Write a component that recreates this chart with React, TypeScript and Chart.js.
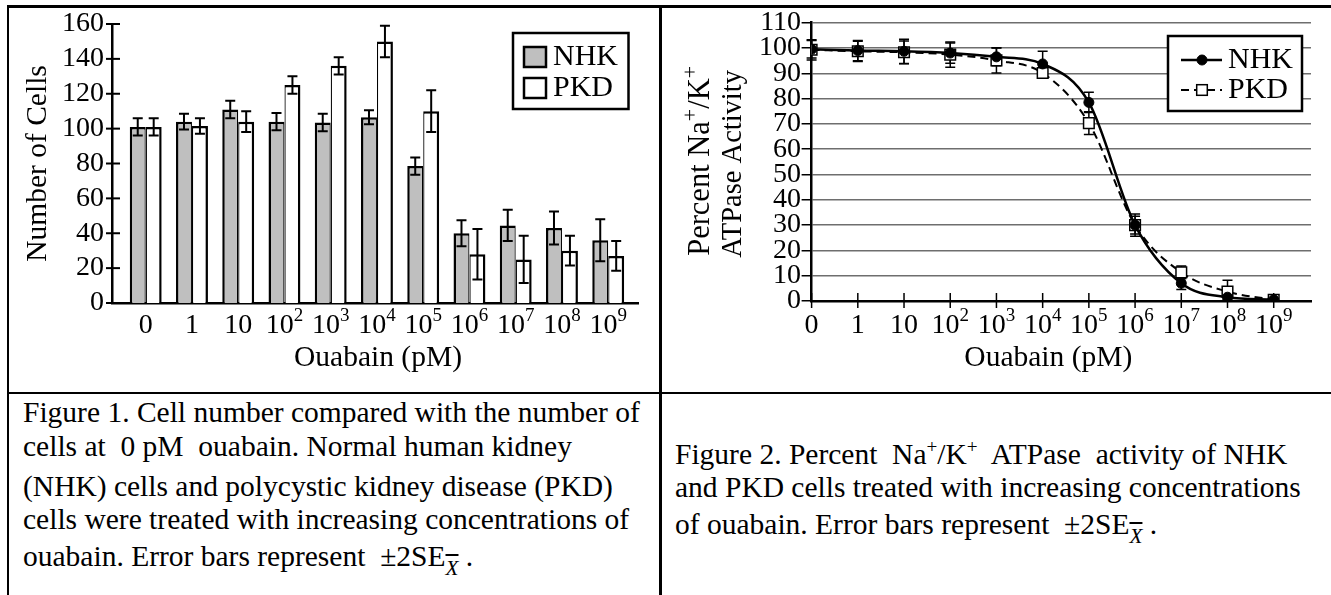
import React, { useEffect, useRef } from 'react';
import { Chart, registerables } from 'chart.js';

Chart.register(...registerables);

const SERIF = '"Liberation Serif", "Times New Roman", serif';

// ---------- data ----------
const concIndex = [0, 1, 2, 3, 4, 5, 6, 7, 8, 9, 10];
const tickBase = ['0', '1', '10', '10', '10', '10', '10', '10', '10', '10', '10'];
const tickExp = ['', '', '', '2', '3', '4', '5', '6', '7', '8', '9'];

const cellTicks = [0, 20, 40, 60, 80, 100, 120, 140, 160];
const nhkCells = [101, 104, 111, 104, 103.5, 106.5, 78.5, 40, 44.5, 43, 36];
const nhkCellsErr = [5, 4.5, 5, 5, 5, 4, 5, 7.5, 9, 9.5, 12];
const pkdCells = [101, 101.5, 104, 125, 136, 150, 110, 28, 25, 30, 27];
const pkdCellsErr = [5, 4.5, 6, 5, 5, 9, 12, 14.5, 13.5, 8.5, 8.5];

const activityTicks = [0, 10, 20, 30, 40, 50, 60, 70, 80, 90, 100, 110];
const nhkActivity = [99.5, 99, 98.7, 98, 96.5, 93.7, 78.5, 30, 7, 1.5, 0.5];
const nhkActivityErr = [3.5, 4, 4.8, 4, 3.5, 5, 4, 4.4, 2.5, 1, 0.5];
const pkdActivity = [99.3, 98.7, 98.3, 97.4, 95.1, 90.1, 70.3, 30, 11.3, 3.7, 0.5];
const pkdActivityErr = [4, 4, 4.5, 5, 5, 2, 4.5, 3.5, 2.5, 4.5, 0.5];

const seriesNames = ['NHK', 'PKD'];

// ---------- drawing helpers ----------
type Seg = { t: string; sup?: boolean };
const font = (px: number) => `${px}px ${SERIF}`;

function drawSegs(ctx: CanvasRenderingContext2D, segs: Seg[], cx: number, cy: number, size: number, supSize: number, rise: number, align: 'center' | 'right' = 'center') {
  const widths = segs.map((s) => {
    ctx.font = font(s.sup ? supSize : size);
    return ctx.measureText(s.t).width;
  });
  const total = widths.reduce((a, b) => a + b, 0);
  let x = align === 'center' ? cx - total / 2 : cx - total;
  ctx.textAlign = 'left';
  ctx.textBaseline = 'middle';
  ctx.fillStyle = '#000';
  segs.forEach((s, i) => {
    ctx.font = font(s.sup ? supSize : size);
    ctx.fillText(s.t, x, s.sup ? cy - rise : cy);
    x += widths[i];
  });
}

function drawLeft(ctx: CanvasRenderingContext2D, text: string, x: number, y: number, size: number) {
  ctx.font = font(size);
  ctx.textAlign = 'left';
  ctx.textBaseline = 'middle';
  ctx.fillStyle = '#000';
  ctx.fillText(text, x, y);
}

function drawErrorBars(chart: any, values: number[][], errs: number[][], cap: number, width: number) {
  const { ctx } = chart;
  const y = chart.scales.y;
  ctx.save();
  ctx.strokeStyle = '#000';
  ctx.lineWidth = width;
  values.forEach((vals, di) => {
    const meta = chart.getDatasetMeta(di);
    meta.data.forEach((el: any, j: number) => {
      const px = el.x;
      const top = y.getPixelForValue(vals[j] + errs[di][j]);
      const bot = y.getPixelForValue(Math.max(0, vals[j] - errs[di][j]));
      ctx.beginPath();
      ctx.moveTo(px, top);
      ctx.lineTo(px, bot);
      ctx.moveTo(px - cap, top);
      ctx.lineTo(px + cap, top);
      ctx.moveTo(px - cap, bot);
      ctx.lineTo(px + cap, bot);
      ctx.stroke();
    });
  });
  ctx.restore();
}

function drawXTickLabels(chart: any, yPos: number) {
  const { ctx } = chart;
  const x = chart.scales.x;
  concIndex.forEach((v, i) => {
    const px = x.getPixelForValue(v);
    const segs: Seg[] = [{ t: tickBase[i] }];
    if (tickExp[i]) segs.push({ t: tickExp[i], sup: true });
    drawSegs(ctx, segs, px, yPos, 28, 19, 9.5);
  });
}

function drawYTickLabels(chart: any, ticks: number[], gap: number) {
  const { ctx } = chart;
  const y = chart.scales.y;
  const left = chart.chartArea.left;
  ticks.forEach((t) => {
    drawSegs(ctx, [{ t: String(t) }], left - gap, y.getPixelForValue(t), 28, 19, 0, 'right');
  });
}

function drawRotated(ctx: CanvasRenderingContext2D, segs: Seg[], cx: number, cy: number, size: number, supSize: number, rise: number) {
  ctx.save();
  ctx.translate(cx, cy);
  ctx.rotate(-Math.PI / 2);
  drawSegs(ctx, segs, 0, 0, size, supSize, rise);
  ctx.restore();
}

// ---------- bar chart ----------
const barPlugin = {
  id: 'barExtras',
  afterDatasetsDraw(chart: any) {
    drawErrorBars(chart, [nhkCells, pkdCells], [nhkCellsErr, pkdCellsErr], 5, 2);
  },
  afterDraw(chart: any) {
    const { ctx, chartArea } = chart;
    const y = chart.scales.y;
    ctx.save();
    ctx.strokeStyle = '#000';
    ctx.lineWidth = 2;
    cellTicks.forEach((t) => {
      const py = y.getPixelForValue(t);
      ctx.beginPath();
      ctx.moveTo(chartArea.left - 6, py);
      ctx.lineTo(chartArea.left + 8, py);
      ctx.stroke();
    });
    drawYTickLabels(chart, cellTicks, 8);
    drawXTickLabels(chart, 318);
    drawSegs(ctx, [{ t: 'Ouabain (pM)' }], (chartArea.left + chartArea.right) / 2 + 3, 350, 29.5, 20, 0);
    drawRotated(ctx, [{ t: 'Number of Cells' }], 29, (chartArea.top + chartArea.bottom) / 2, 29.5, 20, 0);

    const bx = 504, by = 25, bw = 115.5, bh = 76;
    ctx.fillStyle = '#fff';
    ctx.fillRect(bx, by, bw, bh);
    ctx.lineWidth = 2.5;
    ctx.strokeStyle = '#000';
    ctx.strokeRect(bx, by, bw, bh);
    [49, 80].forEach((cy, i) => {
      const ds = chart.data.datasets[i];
      ctx.fillStyle = ds.backgroundColor;
      ctx.fillRect(515, cy - 10, 22, 20);
      ctx.lineWidth = 2.5;
      ctx.strokeStyle = '#000';
      ctx.strokeRect(515, cy - 10, 22, 20);
      drawLeft(ctx, ds.label, 544, cy, 30);
    });
    ctx.restore();
  },
};

// ---------- line chart ----------
const linePlugin = {
  id: 'lineExtras',
  beforeDatasetsDraw(chart: any) {
    drawErrorBars(chart, [nhkActivity, pkdActivity], [nhkActivityErr, pkdActivityErr], 5, 1.5);
  },
  afterDraw(chart: any) {
    const { ctx, chartArea } = chart;
    const x = chart.scales.x;
    ctx.save();
    ctx.strokeStyle = '#000';
    ctx.lineWidth = 1.5;
    concIndex.forEach((v) => {
      const px = x.getPixelForValue(v);
      ctx.beginPath();
      ctx.moveTo(px, chartArea.bottom - 8);
      ctx.lineTo(px, chartArea.bottom + 7);
      ctx.stroke();
    });
    drawYTickLabels(chart, activityTicks, 10.5);
    drawXTickLabels(chart, 318);
    drawSegs(ctx, [{ t: 'Ouabain (pM)' }], (chartArea.left + chartArea.right) / 2 - 13, 350, 29.5, 20, 0);
    const midY = (chartArea.top + chartArea.bottom) / 2;
    drawRotated(ctx, [{ t: 'Percent Na' }, { t: '+', sup: true }, { t: '/K' }, { t: '+', sup: true }], 39, midY - 1, 30.5, 22, 10);
    drawRotated(ctx, [{ t: 'ATPase Activity' }], 72, midY + 2, 28.5, 19, 0);

    const bx = 506, by = 28, bw = 134, bh = 75;
    ctx.fillStyle = '#fff';
    ctx.fillRect(bx, by, bw, bh);
    ctx.lineWidth = 2.5;
    ctx.strokeStyle = '#000';
    ctx.strokeRect(bx, by, bw, bh);
    [52, 82].forEach((cy, i) => {
      const ds = chart.data.datasets[i];
      ctx.save();
      ctx.strokeStyle = '#000';
      ctx.lineWidth = ds.borderWidth;
      ctx.setLineDash(ds.borderDash || []);
      ctx.beginPath();
      ctx.moveTo(519, cy);
      ctx.lineTo(560, cy);
      ctx.stroke();
      ctx.restore();
      ctx.fillStyle = ds.pointBackgroundColor;
      ctx.strokeStyle = '#000';
      ctx.lineWidth = ds.pointBorderWidth;
      if (ds.pointStyle === 'circle') {
        ctx.beginPath();
        ctx.arc(540, cy, ds.pointRadius, 0, Math.PI * 2);
        ctx.fill();
        ctx.stroke();
      } else {
        const s = ds.pointRadius * Math.SQRT1_2;
        ctx.fillRect(540 - s, cy - s, 2 * s, 2 * s);
        ctx.strokeRect(540 - s, cy - s, 2 * s, 2 * s);
      }
      drawLeft(ctx, ds.label, 566, cy, 30);
    });
    ctx.restore();
  },
};

function BarChart() {
  const ref = useRef<HTMLCanvasElement>(null);
  useEffect(() => {
    const chart = new Chart(ref.current!, {
      type: 'bar',
      data: {
        datasets: [
          {
            label: seriesNames[0],
            data: concIndex.map((x, i) => ({ x, y: nhkCells[i] })),
            backgroundColor: '#bfbfbf',
            borderColor: '#000',
            borderWidth: { left: 2.5, top: 2.5, right: 1.25, bottom: 0 },
            borderSkipped: 'start',
            categoryPercentage: 0.69,
            barPercentage: 1,
          },
          {
            label: seriesNames[1],
            data: concIndex.map((x, i) => ({ x, y: pkdCells[i] })),
            backgroundColor: '#ffffff',
            borderColor: '#000',
            borderWidth: { left: 1.25, top: 2.5, right: 2.5, bottom: 0 },
            borderSkipped: 'start',
            categoryPercentage: 0.69,
            barPercentage: 1,
          },
        ],
      } as any,
      options: {
        animation: false,
        responsive: true,
        maintainAspectRatio: false,
        layout: { padding: { top: 16, right: 20, left: 0, bottom: 0 } },
        plugins: { legend: { display: false }, tooltip: { enabled: false } },
        scales: {
          x: {
            type: 'linear',
            min: -0.729,
            max: 10.644,
            offset: false,
            grid: { display: false, offset: false },
            border: { display: true, color: '#000', width: 2.5 },
            ticks: { display: false },
            afterBuildTicks: (s: any) => {
              s.ticks = concIndex.map((v) => ({ value: v }));
            },
            afterFit: (s: any) => {
              s.height = 88;
            },
          },
          y: {
            min: 0,
            max: 160,
            grid: { display: false },
            border: { display: true, color: '#000', width: 2.5 },
            ticks: { display: false, stepSize: 20 },
            afterFit: (s: any) => {
              s.width = 103;
            },
          },
        },
      } as any,
      plugins: [barPlugin],
    });
    return () => chart.destroy();
  }, []);
  return (
    <div style={{ position: 'absolute', left: 9, top: 8, width: 649, height: 383 }}>
      <canvas ref={ref} />
    </div>
  );
}

function LineChart() {
  const ref = useRef<HTMLCanvasElement>(null);
  useEffect(() => {
    const chart = new Chart(ref.current!, {
      type: 'line',
      data: {
        datasets: [
          {
            label: seriesNames[0],
            data: concIndex.map((x, i) => ({ x, y: nhkActivity[i] })),
            borderColor: '#000',
            borderWidth: 2.5,
            pointStyle: 'circle',
            pointRadius: 5,
            pointBackgroundColor: '#000',
            pointBorderColor: '#000',
            pointBorderWidth: 1,
            cubicInterpolationMode: 'monotone',
            fill: false,
          },
          {
            label: seriesNames[1],
            data: concIndex.map((x, i) => ({ x, y: pkdActivity[i] })),
            borderColor: '#000',
            borderWidth: 2,
            borderDash: [8, 5],
            pointStyle: 'rect',
            pointRadius: 7.5,
            pointBackgroundColor: '#fff',
            pointBorderColor: '#000',
            pointBorderWidth: 1.5,
            cubicInterpolationMode: 'monotone',
            fill: false,
          },
        ],
      } as any,
      options: {
        animation: false,
        responsive: true,
        maintainAspectRatio: false,
        layout: { padding: { top: 14.7, right: 20, left: 0, bottom: 0 } },
        plugins: { legend: { display: false }, tooltip: { enabled: false } },
        scales: {
          x: {
            type: 'linear',
            min: 0,
            max: 10.807,
            grid: { display: false },
            border: { display: true, color: '#000', width: 2.5 },
            ticks: { display: false },
            afterBuildTicks: (s: any) => {
              s.ticks = concIndex.map((v) => ({ value: v }));
            },
            afterFit: (s: any) => {
              s.height = 90;
            },
          },
          y: {
            min: 0,
            max: 110,
            grid: { display: true, color: '#6e6e6e', lineWidth: 1.5, tickColor: '#000', tickLength: 10, drawTicks: true },
            border: { display: true, color: '#000', width: 2.5 },
            ticks: { display: false, stepSize: 10 },
            afterFit: (s: any) => {
              s.width = 149.6;
            },
          },
        },
      } as any,
      plugins: [linePlugin],
    });
    return () => chart.destroy();
  }, []);
  return (
    <div style={{ position: 'absolute', left: 662, top: 8, width: 669, height: 383 }}>
      <canvas ref={ref} />
    </div>
  );
}

const line = (top: number, left: number): React.CSSProperties => ({
  position: 'absolute',
  top,
  left,
  whiteSpace: 'pre',
  lineHeight: '34px',
  fontSize: 29.5,
});

const xbar = (
  <span style={{ fontStyle: 'italic', fontSize: '0.72em', textDecoration: 'overline', position: 'relative', top: '0.45em' }}>X</span>
);
const sup = (t: string) => <span style={{ fontSize: '0.65em', position: 'relative', top: '-0.55em' }}>{t}</span>;

export default function App() {
  const bar = (s: React.CSSProperties) => <div style={{ position: 'absolute', background: '#000', ...s }} />;
  return (
    <div style={{ position: 'absolute', left: 0, top: 0, width: 1331, height: 595, background: '#fff', overflow: 'hidden', fontFamily: SERIF, color: '#000' }}>
      <BarChart />
      <LineChart />
      {bar({ left: 6.5, top: 5, width: 1325, height: 2.5 })}
      {bar({ left: 6.5, top: 5, width: 2.5, height: 590 })}
      {bar({ left: 659, top: 5, width: 2.5, height: 590 })}
      {bar({ left: 6.5, top: 391.5, width: 1325, height: 2.5 })}

      <div style={line(413 - 18.5, 23)}>Figure 1. Cell number compared with the number of</div>
      <div style={line(447 - 18.5, 23)}>cells at  0 pM  ouabain. Normal human kidney</div>
      <div style={line(487 - 18.5, 23)}>(NHK) cells and polycystic kidney disease (PKD)</div>
      <div style={line(520 - 18.5, 23)}>cells were treated with increasing concentrations of</div>
      <div style={line(557 - 18.5, 23)}>ouabain. Error bars represent  ±2SE{xbar} .</div>

      <div style={line(455 - 18.5, 675)}>Figure 2. Percent  Na{sup('+')}/K{sup('+')}  ATPase  activity of NHK</div>
      <div style={line(488 - 18.5, 675)}>and PKD cells treated with increasing concentrations</div>
      <div style={line(525 - 18.5, 675)}>of ouabain. Error bars represent  ±2SE{xbar} .</div>
    </div>
  );
}
